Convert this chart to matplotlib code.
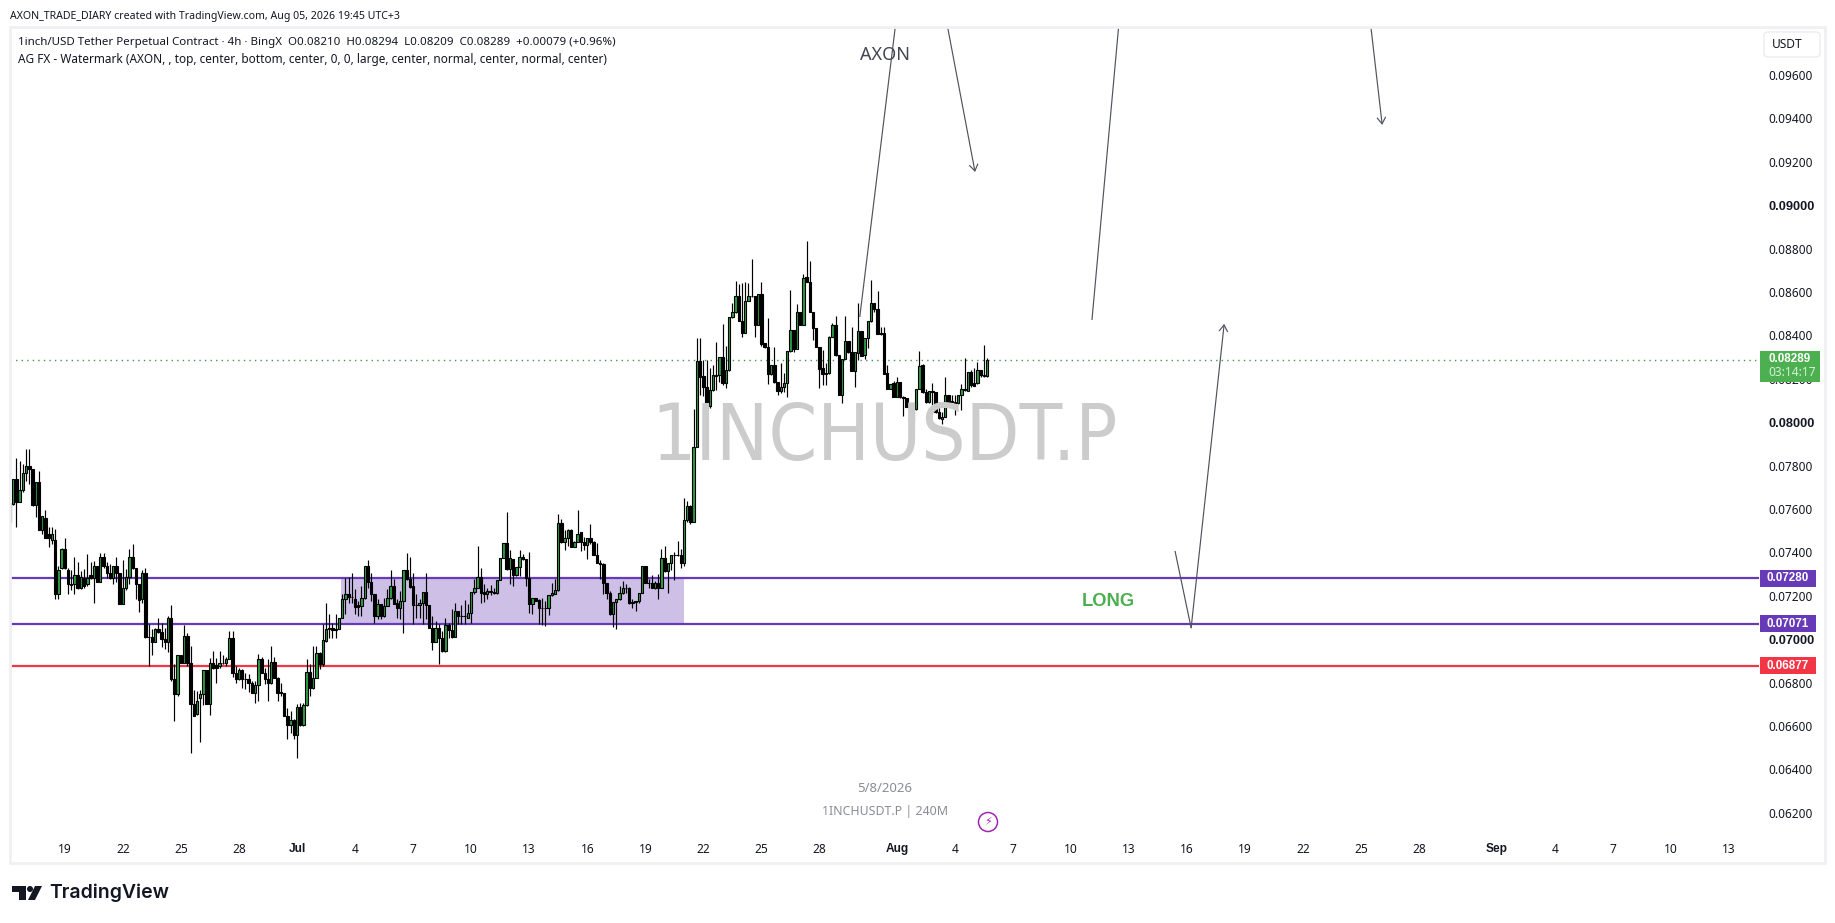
import pandas as pd
import numpy as np
import matplotlib
matplotlib.use("Agg")
import matplotlib.pyplot as plt
import matplotlib.dates as mdates
from matplotlib.patches import Rectangle, FancyBboxPatch, Polygon, Circle

plt.rcParams['font.family'] = ['Noto Sans', 'DejaVu Sans']

# 4h candles, open / high / low / close
opens = [.07542,.07625,.07737,.07634,.07687,.07766,.07799,.07783,.07617,.07725,.07505,.07558,.07485,.07458,.07458,.07207,
.07327,.07415,.07318,.07253,.07253,.07295,.07235,.07284,.07253,.07295,.07284,.07338,.07266,.07378,.07338,.07303,
.07284,.07338,.07303,.07164,.07235,.07287,.07378,.07327,.07253,.07184,.07304,.07012,.07012,.06985,.07046,.07035,
.07003,.06985,.07097,.06816,.06747,.06928,.06892,.07015,.06892,.06703,.06654,.06727,.06747,.06859,.06703,.06892,
.06879,.06877,.06892,.06892,.06908,.07005,.06846,.06816,.06857,.06816,.06816,.06797,.06754,.06788,.06908,.06846,
.06816,.06797,.06894,.06823,.06754,.06754,.06644,.06604,.06627,.06559,.06688,.06604,.06696,.06848,.06774,.06823,
.06935,.06885,.06992,.07046,.07054,.07043,.07046,.07097,
.07184,.07207,.07195,.07184,.07157,.07153,.07192,.07338,.07266,.07207,.07106,.07164,.07106,.07155,.07192,.07244,
.07167,.07146,.07174,.07318,.07276,.07244,.07157,.07157,.07167,.07217,.07157,.07054,.06985,.07054,.07005,.06946,
.07065,.07043,.07012,.07129,.07106,.07105,.07100,.07120,.07217,.07235,.07287,.07217,.07207,.07220,.07217,.07212,
.07273,.07373,.07442,.07323,.07369,.07295,.07333,.07379,.07369,.07280,.07164,.07192,.07180,.07143,.07146,.07143,
.07204,.07210,.07226,.07535,.07450,.07465,.07502,.07427,.07450,.07493,.07450,.07436,.07465,.07450,.07390,.07353,
.07346,.07261,.07215,.07114,.07171,.07184,.07212,.07235,.07238,.07166,.07172,.07175,.07215,.07336,.07261,.07260,
.07235,.07260,.07238,.07373,.07315,.07350,.07387,.07386,.07387,.07350,.07548,.07613,.07542,
.07888,.08282,.08213,.08164,.08077,.08147,.08216,.08216,.08299,.08180,.08239,.08484,.08507,.08582,.08468,.08413,
.08560,.08582,.08582,.08450,.08591,.08364,.08345,.08221,.08262,.08187,.08146,.08161,.08183,.08330,.08424,.08339,
.08507,.08450,.08668,.08645,.08510,.08433,.08345,.08249,.08229,.08226,.08391,.08447,.08308,.08127,.08292,.08374,
.08322,.08238,.08321,.08419,.08308,.08387,.08465,.08548,.08522,.08410,.08410,.08226,.08155,.08180,.08118,.08186,
.08118,.08110,.08072,.08007,.08060,.08152,.08264,.08138,.08092,.08143,.08138,.08046,.08017,.08026,.08124,.08095,
.08095,.08087,.08126,.08152,.08146,.08230,.08180,.08180,.08239,.08216,.08213]
highs = [.07627,.07737,.07834,.07822,.07806,.07876,.07876,.07783,.07725,.07776,.07568,.07594,.07515,.07518,.07507,.07338,
.07422,.07465,.07327,.07318,.07379,.07356,.07315,.07323,.07393,.07356,.07361,.07338,.07399,.07399,.07356,.07346,
.07338,.07379,.07303,.07364,.07323,.07415,.07438,.07327,.07253,.07318,.07330,.07072,.07046,.07054,.07100,.07077,
.07054,.07108,.07158,.06885,.06928,.06928,.07066,.07031,.06969,.06765,.06762,.06765,.06859,.06859,.06915,.06946,
.06915,.06946,.06928,.06916,.07038,.07038,.06877,.06869,.06862,.06846,.06839,.06808,.06808,.06931,.06916,.06866,
.06908,.06969,.06916,.06826,.06800,.06754,.06685,.06670,.06631,.06701,.06708,.06708,.06908,.06885,.06969,.06969,
.06939,.07069,.07166,.07115,.07077,.07118,.07097,.07207,
.07280,.07287,.07304,.07230,.07177,.07246,.07338,.07364,.07304,.07207,.07184,.07164,.07192,.07230,.07318,.07276,
.07184,.07223,.07318,.07399,.07379,.07304,.07207,.07184,.07217,.07304,.07157,.07108,.07085,.07069,.07038,.07100,
.07077,.07138,.07166,.07129,.07157,.07180,.07161,.07217,.07276,.07430,.07327,.07253,.07238,.07250,.07235,.07273,
.07373,.07442,.07587,.07410,.07369,.07333,.07410,.07395,.07369,.07402,.07192,.07192,.07184,.07192,.07177,.07204,
.07258,.07276,.07576,.07553,.07502,.07507,.07507,.07453,.07594,.07493,.07472,.07465,.07530,.07453,.07444,.07364,
.07353,.07261,.07220,.07171,.07184,.07246,.07269,.07256,.07241,.07184,.07175,.07215,.07336,.07336,.07276,.07296,
.07269,.07300,.07415,.07430,.07353,.07389,.07404,.07453,.07415,.07650,.07637,.07619,.08060,
.08387,.08387,.08287,.08287,.08249,.08264,.08370,.08299,.08453,.08351,.08484,.08548,.08651,.08636,.08643,.08648,
.08643,.08752,.08582,.08591,.08648,.08367,.08479,.08264,.08348,.08187,.08271,.08226,.08330,.08610,.08424,.08545,
.08507,.08682,.08835,.08743,.08510,.08433,.08345,.08333,.08271,.08398,.08456,.08490,.08308,.08292,.08490,.08374,
.08441,.08322,.08548,.08419,.08387,.08465,.08655,.08548,.08605,.08441,.08441,.08264,.08176,.08192,.08210,.08186,
.08119,.08110,.08072,.08060,.08152,.08328,.08267,.08153,.08143,.08183,.08138,.08095,.08049,.08210,.08126,.08126,
.08126,.08126,.08176,.08295,.08233,.08241,.08249,.08279,.08241,.08356,.08295]
lows = [.07502,.07619,.07519,.07634,.07680,.07727,.07717,.07614,.07561,.07505,.07484,.07465,.07427,.07438,.07187,.07187,
.07323,.07323,.07210,.07226,.07210,.07230,.07230,.07238,.07246,.07276,.07169,.07266,.07266,.07330,.07284,.07276,
.07256,.07266,.07161,.07164,.07226,.07256,.07323,.07184,.07127,.07169,.07008,.06877,.06928,.06985,.07031,.06962,
.06954,.06939,.06808,.06621,.06739,.06889,.06889,.06877,.06478,.06644,.06651,.06528,.06697,.06703,.06650,.06862,
.06800,.06869,.06885,.06877,.06908,.06826,.06800,.06813,.06777,.06770,.06759,.06754,.06708,.06716,.06846,.06793,
.06716,.06793,.06823,.06716,.06739,.06644,.06539,.06570,.06539,.06452,.06601,.06601,.06693,.06739,.06770,.06823,
.06862,.06877,.06989,.07008,.07008,.07008,.07046,.07097,
.07118,.07169,.07169,.07115,.07108,.07108,.07184,.07238,.07177,.07077,.07092,.07092,.07103,.07154,.07184,.07164,
.07100,.07092,.07031,.07272,.07238,.07069,.07100,.07100,.07069,.07092,.07051,.06949,.06985,.06888,.06943,.06943,
.07008,.07008,.07011,.07069,.07072,.07069,.07100,.07077,.07210,.07235,.07169,.07172,.07184,.07204,.07207,.07210,
.07272,.07373,.07318,.07256,.07246,.07292,.07292,.07364,.07246,.07123,.07118,.07177,.07069,.07066,.07061,.07112,
.07200,.07207,.07223,.07445,.07410,.07430,.07425,.07425,.07450,.07407,.07410,.07372,.07438,.07389,.07353,.07276,
.07207,.07184,.07111,.07058,.07045,.07180,.07207,.07215,.07164,.07146,.07130,.07167,.07213,.07261,.07235,.07235,
.07232,.07187,.07238,.07312,.07213,.07318,.07272,.07384,.07326,.07338,.07538,.07533,.07538,
.07888,.08126,.08121,.08044,.08064,.08146,.08149,.08187,.08172,.08156,.08238,.08481,.08505,.08468,.08394,.08410,
.08560,.08579,.08394,.08450,.08351,.08341,.08176,.08216,.08183,.08126,.08133,.08141,.08118,.08325,.08325,.08336,
.08448,.08448,.08645,.08510,.08379,.08345,.08159,.08172,.08172,.08222,.08391,.08305,.08127,.08087,.08290,.08321,
.08235,.08161,.08287,.08305,.08290,.08341,.08464,.08510,.08407,.08404,.08222,.08152,.08152,.08118,.08118,.08113,
.08029,.08072,.07938,.07998,.08057,.08152,.08136,.08090,.08090,.08080,.08044,.08014,.07992,.08026,.08095,.08090,
.08033,.08084,.08057,.08143,.08146,.08164,.08169,.08176,.08210,.08210,.08210]
closes = [.07627,.07737,.07634,.07687,.07766,.07799,.07783,.07617,.07725,.07505,.07568,.07465,.07465,.07485,.07207,.07318,
.07415,.07327,.07253,.07252,.07295,.07235,.07287,.07246,.07284,.07284,.07338,.07266,.07378,.07338,.07303,.07284,
.07338,.07303,.07164,.07235,.07287,.07378,.07327,.07253,.07181,.07304,.07012,.07011,.06985,.07046,.07035,.07003,
.06985,.07100,.06816,.06747,.06928,.06892,.07015,.06892,.06703,.06644,.06716,.06747,.06859,.06703,.06892,.06866,
.06866,.06892,.06890,.06908,.07005,.06846,.06816,.06857,.06816,.06815,.06797,.06754,.06788,.06908,.06846,.06816,
.06797,.06894,.06823,.06754,.06755,.06644,.06604,.06627,.06559,.06688,.06604,.06696,.06848,.06774,.06823,.06935,
.06885,.06995,.07046,.07054,.07043,.07046,.07097,.07184,
.07207,.07195,.07194,.07149,.07149,.07192,.07338,.07266,.07207,.07106,.07164,.07106,.07155,.07192,.07244,.07164,
.07146,.07174,.07318,.07276,.07243,.07157,.07156,.07167,.07217,.07157,.07054,.06985,.07054,.07005,.06946,.07065,
.07043,.07012,.07129,.07106,.07105,.07106,.07120,.07217,.07235,.07287,.07215,.07207,.07220,.07217,.07213,.07273,
.07373,.07442,.07323,.07373,.07295,.07333,.07379,.07369,.07280,.07164,.07192,.07177,.07143,.07146,.07143,.07204,
.07212,.07226,.07535,.07450,.07465,.07502,.07427,.07450,.07484,.07450,.07436,.07465,.07450,.07390,.07353,.07346,
.07261,.07215,.07114,.07171,.07184,.07212,.07235,.07238,.07166,.07172,.07175,.07215,.07336,.07261,.07260,.07235,
.07260,.07238,.07373,.07313,.07350,.07387,.07386,.07387,.07350,.07548,.07613,.07542,.07888,
.08282,.08210,.08164,.08077,.08147,.08216,.08215,.08299,.08180,.08239,.08484,.08507,.08582,.08468,.08413,.08560,
.08582,.08581,.08450,.08591,.08361,.08345,.08221,.08262,.08187,.08146,.08161,.08183,.08330,.08424,.08339,.08507,
.08450,.08663,.08645,.08510,.08433,.08345,.08245,.08221,.08221,.08391,.08447,.08308,.08127,.08292,.08374,.08322,
.08238,.08322,.08419,.08307,.08387,.08465,.08548,.08520,.08407,.08407,.08222,.08153,.08176,.08118,.08186,.08118,
.08113,.08072,.08007,.08060,.08152,.08258,.08138,.08092,.08143,.08141,.08046,.08018,.08026,.08124,.08095,.08096,
.08087,.08126,.08152,.08149,.08230,.08170,.08169,.08239,.08216,.08213,.08289]

last_bar = "2026-08-05 16:00"

y_ticks = [.062,.064,.066,.068,.070,.072,.074,.076,.078,.080,.082,.084,.086,.088,.090,.092,.094,.096]
y_bold = [.070,.080,.090]
date_ticks = ["2026-06-19","2026-06-22","2026-06-25","2026-06-28","2026-07-01","2026-07-04","2026-07-07","2026-07-10",
              "2026-07-13","2026-07-16","2026-07-19","2026-07-22","2026-07-25","2026-07-28","2026-08-01","2026-08-04",
              "2026-08-07","2026-08-10","2026-08-13","2026-08-16","2026-08-19","2026-08-22","2026-08-25","2026-08-28",
              "2026-09-01","2026-09-04","2026-09-07","2026-09-10","2026-09-13"]
date_labels = ["19","22","25","28","Jul","4","7","10","13","16","19","22","25","28","Aug","4","7","10","13","16",
               "19","22","25","28","Sep","4","7","10","13"]

zone_top = 0.07280
zone_bottom = 0.07071
stop_level = 0.06877
last_price = 0.08289
zone_start = "2026-07-03 06:00"
zone_end = "2026-07-21 00:00"

# hand drawn trend lines, dates and prices
line1_d = ["2026-07-31 22:00", "2026-07-30 02:00"]
line1_p = [.0982, .08485]
line2_d = ["2026-08-03 15:00", "2026-08-05 01:00"]
line2_p = [.0982, .09153]
line3_d = ["2026-08-12 11:00", "2026-08-11 02:00"]
line3_p = [.0982, .08471]
line4_d = ["2026-08-25 12:00", "2026-08-26 02:00"]
line4_p = [.0982, .09370]
line5_d = ["2026-08-15 09:00", "2026-08-16 05:00"]
line5_p = [.07407, .07052]
line6_d = ["2026-08-16 05:00", "2026-08-17 22:00"]
line6_p = [.07052, .08453]

W, H = 1835, 923
fig = plt.figure(figsize=(W/100, H/100), dpi=100, facecolor="white")

# pane in pixel terms: x 10-1759, y 27-835
ax = fig.add_axes([10/W, 1-835/H, (1759-10)/W, (835-27)/H])
ax.patch.set_alpha(0)
for s in ax.spines.values():
    s.set_visible(False)


def px2day(px):
    return mdates.date2num(pd.Timestamp("2026-07-01")) + (px-297)/19.35


def dn(s):
    return mdates.date2num(pd.Timestamp(s))


ax.set_xlim(px2day(10), px2day(1759))
ax.set_ylim(.096-(835-75)*4.608e-5, .096+(75-27)*4.608e-5)

dates = mdates.date2num(pd.date_range(end=last_bar, periods=len(closes), freq="4h"))
o = np.array(opens)
c = np.array(closes)
h = np.array(highs)
l = np.array(lows)
up = c >= o

ax.vlines(dates, l, h, color="black", linewidth=0.85, zorder=5)
ax.bar(dates[up], (c-o)[up], bottom=o[up], width=0.125, color="#2e9e44", edgecolor="black", linewidth=0.8, zorder=6)
ax.bar(dates[~up], (c-o)[~up], bottom=o[~up], width=0.125, color="black", edgecolor="black", linewidth=0.8, zorder=6)

# watermark under the candles
fig.text(885/W, 1-438/H, "1INCHUSDT.P", color="#cccccc", fontsize=56, ha="center", va="center", zorder=0,
         family="DejaVu Sans", stretch="condensed")

# zone and levels
zs = dn(zone_start)
ze = dn(zone_end)
ax.add_patch(Rectangle((zs, zone_bottom), ze-zs, zone_top-zone_bottom, facecolor="#673ab7", alpha=0.32, edgecolor="none", zorder=3))
ax.axhline(zone_top, color="#673ab7", linewidth=1.6, zorder=4)
ax.axhline(zone_bottom, color="#673ab7", linewidth=1.6, zorder=4)
ax.axhline(stop_level, color="#f23645", linewidth=1.6, zorder=4)
ax.axhline(last_price, color="#4c8f55", linewidth=1.0, linestyle=(0, (1, 3)), zorder=2)

# trend lines, the ones with a head go through annotate
for d, p in [(line1_d, line1_p), (line3_d, line3_p), (line5_d, line5_p)]:
    ax.plot([dn(d[0]), dn(d[1])], p, color="#50535e", linewidth=0.85, zorder=7, solid_capstyle="butt")
for d, p in [(line2_d, line2_p), (line4_d, line4_p), (line6_d, line6_p)]:
    ax.annotate("", xy=(dn(d[1]), p[1]), xytext=(dn(d[0]), p[0]),
                arrowprops=dict(arrowstyle="->,head_length=0.45,head_width=0.3", color="#50535e", linewidth=0.85, shrinkA=0, shrinkB=0),
                zorder=7, annotation_clip=False)

ax.text(dn("2026-07-31 09:00"), .09690, "AXON", color="#434651", fontsize=13, ha="center", va="center", zorder=8)
ax.text(dn("2026-08-11 22:00"), .07172, "LONG", color="#4caf50", fontsize=13.2, fontweight="bold", ha="center", va="center", zorder=8,
        family="Liberation Sans")

# axes labels
ax.set_yticks(y_ticks)
ax.set_yticklabels(["%.5f" % v for v in y_ticks])
ax.yaxis.tick_right()
ax.tick_params(axis="y", length=0, pad=6.5, labelsize=8.5, labelcolor="#131722")
for t, v in zip(ax.get_yticklabels(), y_ticks):
    if round(v, 3) in y_bold:
        t.set_fontweight("bold")
        t.set_family("Liberation Sans")
        t.set_fontsize(9.2)
ax.set_xticks(mdates.date2num(pd.to_datetime(date_ticks)))
ax.set_xticklabels(date_labels)
ax.tick_params(axis="x", length=0, pad=5.5, labelsize=8.6, labelcolor="#131722")
for t, lab in zip(ax.get_xticklabels(), date_labels):
    if lab in ("Jul", "Aug", "Sep"):
        t.set_fontweight("bold")
        t.set_family("Liberation Sans")

# overlay in pixels for frame, boxes and header
ov = fig.add_axes([0, 0, 1, 1], facecolor="none")
ov.set_xlim(0, W)
ov.set_ylim(H, 0)
ov.axis("off")
ov.add_patch(Rectangle((10, 27), 1815, 836, fill=False, edgecolor="#f0f0f2", linewidth=2))
ov.add_patch(FancyBboxPatch((1764, 32), 56, 25, boxstyle="round,pad=0,rounding_size=4", facecolor="white", edgecolor="#e8e8ec", linewidth=0.8))
ov.text(1772, 45, "USDT", fontsize=8.6, color="#131722", va="center")


def price_px(p):
    return 75 + (.096-p)/4.608e-5


for val, col in [(zone_top, "#673ab7"), (zone_bottom, "#673ab7"), (stop_level, "#f23645")]:
    yy = price_px(val)
    ov.add_patch(Rectangle((1760, yy-8.5), 56, 17, facecolor=col, edgecolor="none", zorder=5))
    ov.text(1788, yy, "%.5f" % val, color="white", fontsize=8.4, fontweight="bold", ha="center", va="center", zorder=6, family="Liberation Sans")
ov.add_patch(Rectangle((1760, 351), 60, 31, facecolor="#4caf50", edgecolor="none", zorder=5))
ov.text(1768, 359, "%.5f" % last_price, color="white", fontsize=8.4, fontweight="bold", va="center", zorder=6, family="Liberation Sans")
ov.text(1768, 373, "03:14:17", color="#d6f0d8", fontsize=8.6, va="center", zorder=6)

ov.text(10, 16, "AXON_TRADE_DIARY created with TradingView.com, Aug 05, 2026 19:45 UTC+3", fontsize=7.6, color="#131722", va="center")
ov.text(18, 43, "1inch/USD Tether Perpetual Contract · 4h · BingX  O0.08210  H0.08294  L0.08209  C0.08289  +0.00079 (+0.96%)", fontsize=8.3, color="#131722", va="center")
ov.text(18, 60, "AG FX - Watermark (AXON, , top, center, bottom, center, 0, 0, large, center, normal, center, normal, center)", fontsize=8.5, color="#131722", va="center")
ov.text(885, 788, "5/8/2026", fontsize=9.5, color="#8a8d96", ha="center", va="center")
ov.text(885, 812, "1INCHUSDT.P | 240M", fontsize=8.9, color="#8a8d96", ha="center", va="center")
ov.add_patch(Circle((988, 822), 9.5, facecolor="white", edgecolor="#9c27b0", linewidth=1.1))
ov.text(988, 822, "\u26a1", fontsize=8, color="#9c27b0", ha="center", va="center", family="DejaVu Sans")

# logo
ov.add_patch(Polygon([(12, 886), (26, 886), (26, 900), (19, 900), (19, 892), (12, 892)], facecolor="#131722", edgecolor="none"))
ov.add_patch(Circle((30, 889), 3, facecolor="#131722", edgecolor="none"))
ov.add_patch(Polygon([(35, 886), (42, 886), (35, 900), (28, 900)], facecolor="#131722", edgecolor="none"))
ov.text(49, 893, "TradingView", fontsize=14, fontweight="semibold", color="#131722", va="center", family="Inter")

plt.savefig("out.png", dpi=100)
